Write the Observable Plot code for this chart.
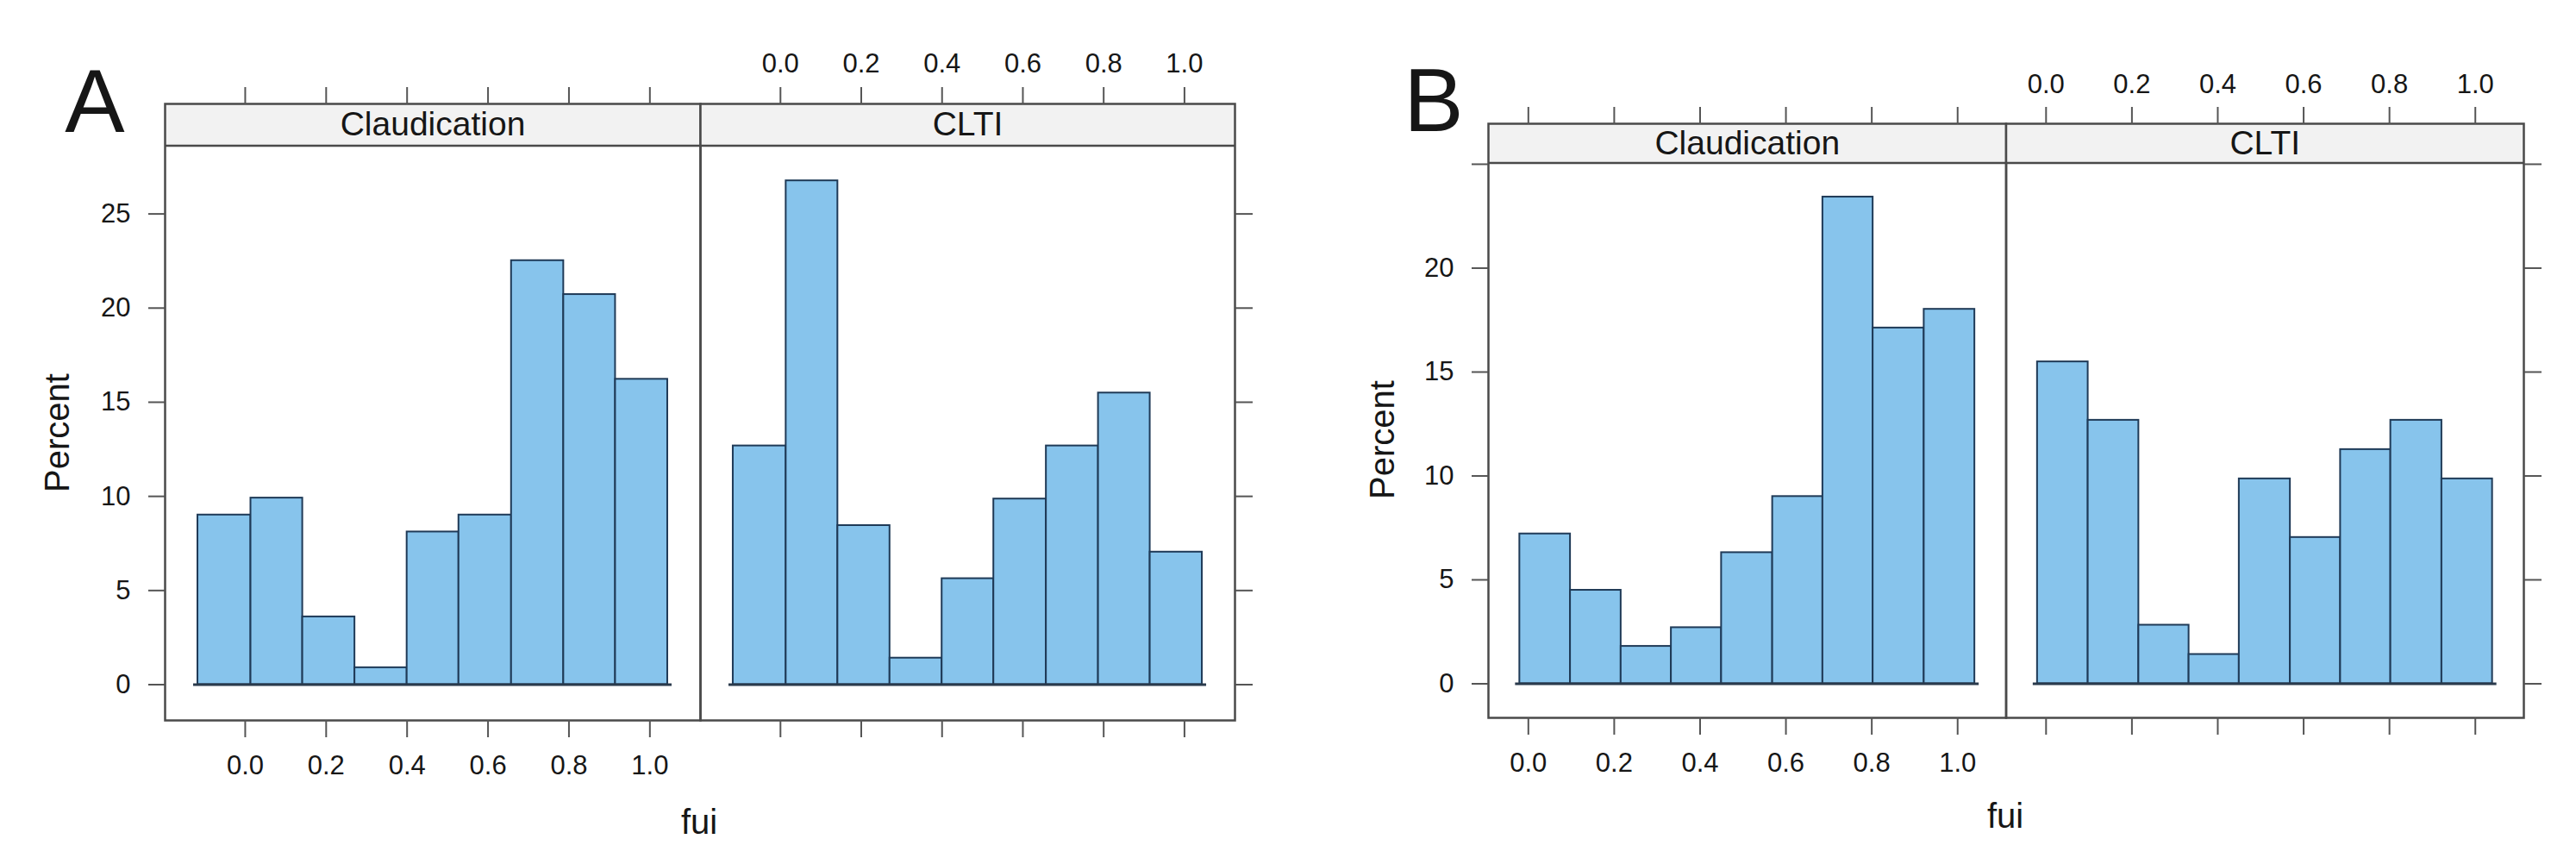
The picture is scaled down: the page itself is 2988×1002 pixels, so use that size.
<!DOCTYPE html>
<html>
<head>
<meta charset="utf-8">
<script src="https://cdn.jsdelivr.net/npm/d3@7"></script>
<script src="https://cdn.jsdelivr.net/npm/@observablehq/plot@0.6"></script>
<style>
  body { margin: 0; background: #fff; }
  #wrap { position: relative; width: 2988px; height: 1002px; overflow: hidden; background: #fff; }
  #wrap svg { position: absolute; left: 0; top: 0; overflow: visible; max-width: none; }
</style>
</head>
<body>
<div id="wrap"></div>
<script>
// ---------- data ----------
const panelNames = ["Claudication", "CLTI"];
const xTicks = [0, 0.2, 0.4, 0.6, 0.8, 1.0];
const yTicks = [0, 5, 10, 15, 20, 25];

// Figure A: histogram bin edges (fui) and percent per bin
const breaksA = [-0.117, 0.014, 0.142, 0.271, 0.400, 0.528, 0.658, 0.787, 0.915, 1.044];
const claudA  = [9.01, 9.91, 3.60, 0.90, 8.11, 9.01, 22.52, 20.72, 16.22];
const cltiA   = [12.68, 26.76, 8.45, 1.41, 5.63, 9.86, 12.68, 15.49, 7.04];

// Figure B
const breaksB = [-0.020, 0.098, 0.216, 0.333, 0.450, 0.569, 0.686, 0.803, 0.922, 1.040];
const claudB  = [7.21, 4.50, 1.80, 2.70, 6.31, 9.01, 23.42, 17.12, 18.02];
const cltiB   = [15.49, 12.68, 2.82, 1.41, 9.86, 7.04, 11.27, 12.68, 9.86];

// ---------- styling / layout ----------
const W = 2988, H = 1002;
const FONT = "'Liberation Sans', Arial, Helvetica, sans-serif";
const BAR_FILL = "#87c4ec", BAR_STROKE = "#1f3a57";
const FRAME = "#4a4a4a", TICK = "#555555", TEXT = "#161616", STRIP = "#f2f2f2";

const figs = [
  {
    breaks: breaksA, values: [claudA, cltiA],
    xDomain: [-0.198, 1.125], yDomain: [-1.9, 28.6],
    edges: [191, 812, 1432], top: 120, stripBottom: 169, bottom: 835,
    yLabel: (d) => String(d), topPad: 17
  },
  {
    breaks: breaksB, values: [claudB, cltiB],
    xDomain: [-0.093, 1.113], yDomain: [-1.64, 25.04],
    edges: [1726, 2326.5, 2927], top: 143, stripBottom: 189, bottom: 832,
    yLabel: (d) => (d === 25 ? "" : String(d)), topPad: 16
  }
];

function stripMark(h) {
  return (index, scales, values, dims) => {
    const g = d3.create("svg:g");
    const x0 = dims.marginLeft, x1 = dims.width - dims.marginRight, y0 = dims.marginTop;
    g.append("rect").attr("x", x0).attr("y", y0).attr("width", x1 - x0).attr("height", h).attr("fill", STRIP);
    g.append("line").attr("x1", x0).attr("x2", x1).attr("y1", y0 + h).attr("y2", y0 + h)
      .attr("stroke", FRAME).attr("stroke-width", 2.5);
    return g.node();
  };
}

const wrap = document.getElementById("wrap");

figs.forEach((f) => {
  panelNames.forEach((name, p) => {
    const rows = f.values[p].map((v, i) => ({ x1: f.breaks[i], x2: f.breaks[i + 1], pct: v }));
    const base = [{ y: 0, x1: f.breaks[0], x2: f.breaks[f.breaks.length - 1] }];
    const left = f.edges[p], right = f.edges[p + 1];
    const isLeft = p === 0;
    const marks = [
      stripMark(f.stripBottom - f.top),
      Plot.rectY(rows, { x1: "x1", x2: "x2", y: "pct", fill: BAR_FILL, stroke: BAR_STROKE, strokeWidth: 2 }),
      Plot.ruleY(base, { y: "y", x1: "x1", x2: "x2", stroke: "#2a3a4c", strokeWidth: 3, insetLeft: -5, insetRight: -5 }),
      Plot.text([name], { frameAnchor: "top", dy: (f.stripBottom - f.top) / 2, text: (d) => d,
        fontSize: 39, lineAnchor: "middle", fill: TEXT, fontFamily: FONT }),
      Plot.frame({ stroke: FRAME, strokeWidth: 2.5 }),
      // top axis: labels only on the right-hand panel
      Plot.axisX({ anchor: "top", ticks: xTicks, tickSize: 20, tickPadding: f.topPad, label: null,
        tickFormat: isLeft ? () => "" : d3.format(".1f"), stroke: TICK, strokeWidth: 2, fill: TEXT, fontSize: 31 }),
      // bottom axis: labels only on the left-hand panel
      Plot.axisX({ anchor: "bottom", ticks: xTicks, tickSize: 20, tickPadding: 20, label: null,
        tickFormat: isLeft ? d3.format(".1f") : () => "", stroke: TICK, strokeWidth: 2, fill: TEXT, fontSize: 31 })
    ];
    if (isLeft) {
      marks.push(Plot.axisY({ anchor: "left", ticks: yTicks, tickSize: 19, tickPadding: 21, label: null,
        tickFormat: f.yLabel, stroke: TICK, strokeWidth: 2, fill: TEXT, fontSize: 31 }));
    } else {
      marks.push(Plot.axisY({ anchor: "right", ticks: yTicks, tickSize: 20, label: null,
        tickFormat: () => "", stroke: TICK, strokeWidth: 2 }));
    }
    const chart = Plot.plot({
      width: W, height: H,
      marginLeft: left, marginRight: W - right, marginTop: f.top, marginBottom: H - f.bottom,
      x: { domain: f.xDomain },
      y: { domain: f.yDomain, range: [f.bottom, f.stripBottom] },
      style: { fontFamily: FONT, fontSize: "31px", color: TEXT, background: "none", overflow: "visible" },
      marks
    });
    wrap.appendChild(chart);
  });
});

// ---------- figure letters and axis titles ----------
const ov = d3.select(wrap).append("svg").attr("width", W).attr("height", H)
  .style("font-family", FONT).style("fill", TEXT);
const labels = [
  { t: "A", x: 110, y: 153, s: 104, r: 0 },
  { t: "B", x: 1663, y: 152, s: 104, r: 0 },
  { t: "Percent", x: 80, y: 502, s: 40, r: -90 },
  { t: "Percent", x: 1617, y: 510, s: 40, r: -90 },
  { t: "fui", x: 811, y: 967, s: 40, r: 0 },
  { t: "fui", x: 2326, y: 960, s: 40, r: 0 }
];
labels.forEach((l) => {
  ov.append("text").attr("text-anchor", "middle").attr("font-size", l.s)
    .attr("transform", `translate(${l.x},${l.y}) rotate(${l.r})`).text(l.t);
});
</script>
</body>
</html>
